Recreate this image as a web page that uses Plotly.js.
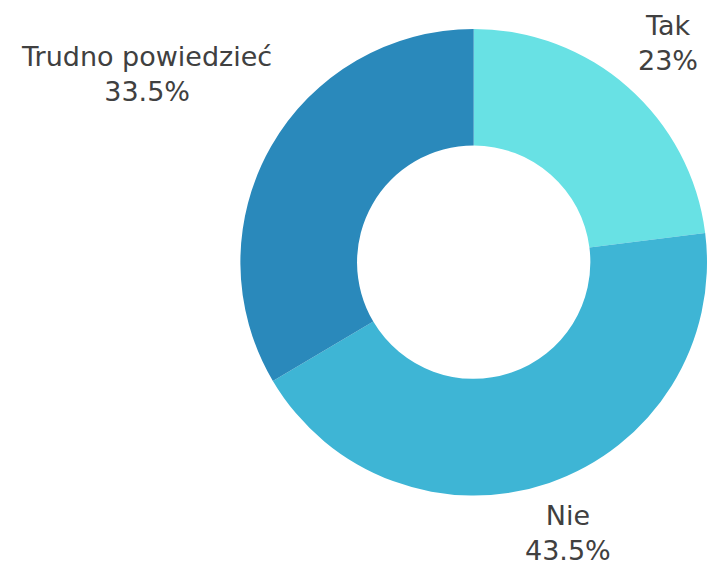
<!DOCTYPE html>
<html>
<head>
<meta charset="utf-8">
<script src="https://cdn.plot.ly/plotly-3.0.1.min.js"></script>
<style>html,body{margin:0;padding:0;background:#fff;overflow:hidden}#chart{width:707px;height:570px}</style>
</head>
<body>
<div id="chart"></div>
<script>
const categories = ["Tak", "Nie", "Trudno powiedzieć"];
const values = [23, 43.5, 33.5];
const colors = ["#68e1e4", "#3eb5d5", "#2a89bb"];

// label anchor positions in pixels (layout only)
const labelPos = [[668, 43], [568, 533], [146, 74]];
const W = 707, H = 570;

const annotations = categories.map((c, i) => ({
  text: c + "<br>" + values[i] + "%",
  xref: "paper", yref: "paper",
  x: labelPos[i][0] / W, y: 1 - labelPos[i][1] / H,
  xanchor: "center", yanchor: "middle",
  showarrow: false,
  align: "center",
  borderpad: 0,
  font: {family: "DejaVu Sans, sans-serif", size: 27, color: "#404040"}
}));

Plotly.newPlot("chart", [{
  type: "pie",
  labels: categories,
  values: values,
  hole: 0.5,
  sort: false,
  direction: "clockwise",
  rotation: 0,
  textinfo: "none",
  hoverinfo: "none",
  marker: {colors: colors, line: {width: 0}},
  domain: {x: [0.34, 1], y: [0.128, 0.952]},
  showlegend: false
}], {
  width: W, height: H,
  margin: {l: 0, r: 0, t: 0, b: 0},
  paper_bgcolor: "#fff",
  annotations: annotations
}, {displayModeBar: false, staticPlot: true});
</script>
</body>
</html>
